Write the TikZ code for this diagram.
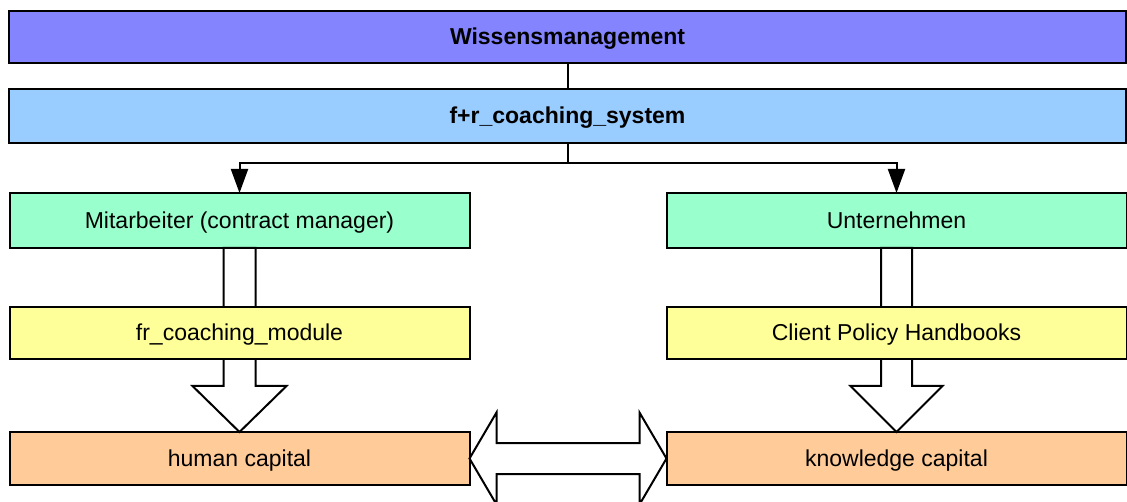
\documentclass[tikz,border=0pt]{standalone}
\usepackage{fontspec}
\setmainfont{Liberation Sans}
\usetikzlibrary{arrows.meta,calc}

\definecolor{cTop}{HTML}{8484FF}
\definecolor{cSys}{HTML}{99CCFF}
\definecolor{cGreen}{HTML}{99FFCC}
\definecolor{cYellow}{HTML}{FFFF99}
\definecolor{cOrange}{HTML}{FFCC99}

\tikzset{
  box/.style={draw=black, line width=2pt, inner sep=0pt, outer sep=0pt,
              minimum height=53pt, text height=16.5pt, text depth=1pt,
              font=\fontsize{23}{27}\selectfont},
  wide/.style={box, minimum width=1117pt, font=\fontsize{23}{27}\selectfont\bfseries},
  half/.style={box, minimum width=460pt},
  link/.style={draw=black, line width=2pt},
  blk/.style={draw=black, line width=2pt, fill=white, line join=miter},
}

\begin{document}
\begin{tikzpicture}[x=1pt, y=-1pt]
\useasboundingbox (0,0) rectangle (1127,502);
\clip (0,0) rectangle (1127,502);

% header bars
\node[wide, fill=cTop, minimum height=52pt] (wm) at (567.5,37) {Wissensmanagement};
\node[wide, fill=cSys, minimum height=54pt] (sys) at (567.5,116) {f+r\_coaching\_system};

% second level
\node[half, fill=cGreen, minimum height=55pt] (mit) at (239.5,220.5) {Mitarbeiter (contract manager)};
\node[half, fill=cGreen, minimum height=55pt] (unt) at (896.5,220.5) {Unternehmen};

% bottom level
\node[half, fill=cOrange, minimum height=53pt] (hum) at (239.5,458.5) {human capital};
\node[half, fill=cOrange, minimum height=53pt] (kno) at (896.5,458.5) {knowledge capital};

% block arrows running behind the middle row
\draw[blk] (mit.south) ++(-16,0) -- ++(0,138) -- ++(-31,0) -- (hum.north)
  -- ++(47,-46) -- ++(-31,0) -- ++(0,-138) -- cycle;
\draw[blk] (unt.south) ++(-15.5,0) -- ++(0,138) -- ++(-30.5,0) -- (kno.north)
  -- ++(46,-46) -- ++(-30.5,0) -- ++(0,-138) -- cycle;

% middle row, drawn over the arrow shafts
\node[half, fill=cYellow, minimum height=52pt] (frc) at (239.5,333) {fr\_coaching\_module};
\node[half, fill=cYellow, minimum height=52pt] (cph) at (896.5,333) {Client Policy Handbooks};

% double block arrow between the capitals
\draw[blk] (hum.east) -- ++(27,-46) -- ++(0,30.5)
  -- ($(kno.west)+(-27,-15.5)$) -- ++(0,-30.5) -- (kno.west)
  -- ++(-27,46) -- ++(0,-30.5)
  -- ($(hum.east)+(27,15.5)$) -- ++(0,30.5) -- cycle;

% tree connectors
\draw[link] (wm) -- (sys);
\draw[link] (sys.south) -- ++(0,20) coordinate (split);
\draw[link, -{Triangle[length=24pt,width=17pt]}] (split) -| (mit.north);
\draw[link, -{Triangle[length=24pt,width=17pt]}] (split) -| (unt.north);

\end{tikzpicture}
\end{document}
